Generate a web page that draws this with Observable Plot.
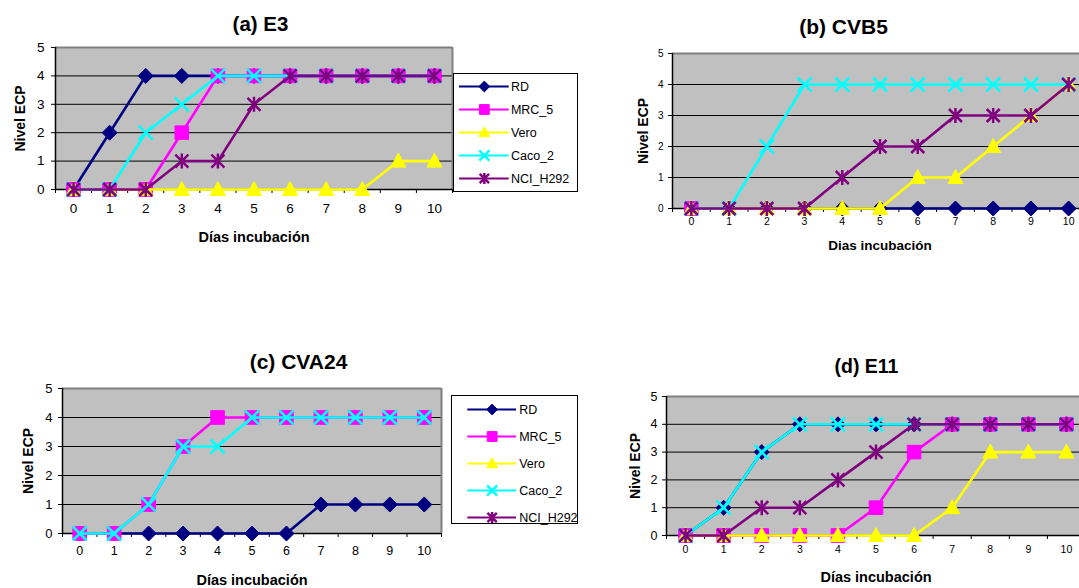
<!DOCTYPE html>
<html>
<head>
<meta charset="utf-8">
<script src="https://cdn.jsdelivr.net/npm/d3@7"></script>
<script src="https://cdn.jsdelivr.net/npm/@observablehq/plot@0.6"></script>
<style>
  html, body { margin: 0; padding: 0; background: #fff; overflow: hidden; }
  #root { position: relative; width: 1079px; height: 588px; overflow: hidden; font-family: Arial, "Liberation Sans", sans-serif; }
  .abs { position: absolute; }
  svg { overflow: visible; max-width: none !important; }
</style>
</head>
<body>
<div id="root"></div>
<script>
// ---------- data ----------
const days = [0, 1, 2, 3, 4, 5, 6, 7, 8, 9, 10];
const yTicks = [0, 1, 2, 3, 4, 5];
const seriesNames = ["RD", "MRC_5", "Vero", "Caco_2", "NCI_H292"];
const seriesColors = ["#000080", "#FF00FF", "#FFFF00", "#00FFFF", "#800080"];
const xAxisLabelAccent = "Días incubación";
const xAxisLabelPlain = "Dias incubación";
const yAxisLabel = "Nivel ECP";
const panelTitles = ["(a) E3", "(b) CVB5", "(c) CVA24", "(d) E11"];

// (a) E3
const e3RD     = [0, 2, 4, 4, 4, 4, 4, 4, 4, 4, 4];
const e3MRC5   = [0, 0, 0, 2, 4, 4, 4, 4, 4, 4, 4];
const e3Vero   = [0, 0, 0, 0, 0, 0, 0, 0, 0, 1, 1];
const e3Caco2  = [0, 0, 2, 3, 4, 4, 4, 4, 4, 4, 4];
const e3NCI    = [0, 0, 0, 1, 1, 3, 4, 4, 4, 4, 4];
// (b) CVB5
const cvb5RD    = [0, 0, 0, 0, 0, 0, 0, 0, 0, 0, 0];
const cvb5MRC5  = [0, null, null, null, null, null, null, null, null, null, null];
const cvb5Vero  = [0, 0, 0, 0, 0, 0, 1, 1, 2, 3, 4];
const cvb5Caco2 = [0, 0, 2, 4, 4, 4, 4, 4, 4, 4, 4];
const cvb5NCI   = [0, 0, 0, 0, 1, 2, 2, 3, 3, 3, 4];
// (c) CVA24
const cva24RD    = [0, 0, 0, 0, 0, 0, 0, 1, 1, 1, 1];
const cva24MRC5  = [0, 0, 1, 3, 4, 4, 4, 4, 4, 4, 4];
const cva24Vero  = [null, null, null, null, null, null, null, null, null, null, null];
const cva24Caco2 = [0, 0, 1, 3, 3, 4, 4, 4, 4, 4, 4];
const cva24NCI   = [null, null, null, null, null, null, null, null, null, null, null];
// (d) E11
const e11RD    = [0, 1, 3, 4, 4, 4, 4, 4, 4, 4, 4];
const e11MRC5  = [0, 0, 0, 0, 0, 1, 3, 4, 4, 4, 4];
const e11Vero  = [0, 0, 0, 0, 0, 0, 0, 1, 3, 3, 3];
const e11Caco2 = [0, 1, 3, 4, 4, 4, 4, 4, 4, 4, 4];
const e11NCI   = [0, 0, 1, 1, 2, 3, 4, 4, 4, 4, 4];

// ---------- symbols ----------
function makeSymbols(k) {
  return [
    { draw(c) { const h = 7.5 * k; c.moveTo(0, -h); c.lineTo(h, 0); c.lineTo(0, h); c.lineTo(-h, 0); c.closePath(); } },
    { draw(c) { const s = 6.8 * k; c.moveTo(-s, -s); c.lineTo(s, -s); c.lineTo(s, s); c.lineTo(-s, s); c.closePath(); } },
    { draw(c) { const w = 7.5 * k; c.moveTo(0, -8 * k); c.lineTo(w, 6 * k); c.lineTo(-w, 6 * k); c.closePath(); } },
    { draw(c) { const s = 7 * k; c.moveTo(-s, -s); c.lineTo(s, s); c.moveTo(s, -s); c.lineTo(-s, s); } },
    { draw(c) { const s = 6.5 * k; c.moveTo(-s, -s); c.lineTo(s, s); c.moveTo(s, -s); c.lineTo(-s, s); c.moveTo(0, -7.5 * k); c.lineTo(0, 7.5 * k); } }
  ];
}
const filledSym = [true, true, true, false, false];

const boundaries = d3.range(-0.5, 11, 1);
const root = document.getElementById("root");
const baseStyle = { fontFamily: "Arial, 'Liberation Sans', sans-serif", background: "transparent", overflow: "visible", color: "#000", maxWidth: "none" };

function panel(spec) {
  const rows = spec.values.map(arr => days.map((d, i) => ({ day: d, v: arr[i] })));
  const syms = makeSymbols(1);
  const seriesMarks = [];
  rows.forEach((data, s) => {
    seriesMarks.push(Plot.line(data, { x: "day", y: "v", stroke: seriesColors[s], strokeWidth: 2.6 }));
    seriesMarks.push(Plot.dot(data.filter(d => d.v != null), {
      x: "day", y: "v", symbol: syms[s],
      fill: filledSym[s] ? seriesColors[s] : "none",
      stroke: seriesColors[s],
      strokeWidth: filledSym[s] ? 1 : 2.5
    }));
  });
  const chart = Plot.plot({
    width: spec.width, height: spec.height,
    marginLeft: spec.mL, marginRight: spec.mR, marginTop: spec.mT, marginBottom: spec.mB,
    style: baseStyle,
    x: { domain: [-0.5, 10.5] },
    y: { domain: [0, 5] },
    marks: [
      Plot.frame({ fill: "#C0C0C0", stroke: null }),
      Plot.ruleY([1, 2, 3, 4], { stroke: "#000", strokeWidth: 1 }),
      Plot.ruleY([5], { stroke: "#808080", strokeWidth: 2 }),
      Plot.ruleX([10.5], { stroke: "#808080", strokeWidth: 2 }),
      Plot.axisY({ ticks: yTicks, tickSize: 4, tickPadding: spec.yPad, fontSize: spec.yFont, tickFormat: d => String(d), label: null }),
      Plot.axisX({ ticks: boundaries, tickSize: 4, tickFormat: () => "", label: null }),
      Plot.axisX({ ticks: days, tickSize: 0, tickPadding: spec.xPad, fontSize: spec.xFont, tickFormat: d => String(d), label: null }),
      Plot.ruleX([-0.5], { stroke: "#000", strokeWidth: 1.5 }),
      Plot.ruleY([0], { stroke: "#000", strokeWidth: 1.5 }),
      ...seriesMarks,
      Plot.text([spec.title], { text: d => d, frameAnchor: "top", lineAnchor: "middle", textAnchor: "middle", dx: spec.tDx, dy: spec.tDy, fontSize: spec.tFont, fontWeight: "bold", fill: "#000" }),
      Plot.text([yAxisLabel], { text: d => d, frameAnchor: "left", lineAnchor: "middle", textAnchor: "middle", rotate: -90, dx: spec.yLDx, fontSize: 14, fontWeight: "bold", fill: "#000" }),
      Plot.text([spec.xLabel], { text: d => d, frameAnchor: "bottom", lineAnchor: "middle", textAnchor: "middle", dx: spec.xLDx, dy: spec.xLDy, fontSize: spec.xLFont, fontWeight: "bold", fill: "#000" })
    ]
  });
  const wrap = document.createElement("div");
  wrap.className = "abs";
  wrap.style.left = spec.left + "px";
  wrap.style.top = spec.top + "px";
  wrap.style.width = spec.width + "px";
  wrap.appendChild(chart);
  root.appendChild(wrap);
}

function legend(spec) {
  const syms = makeSymbols(0.72);
  const marks = [Plot.frame({ stroke: "#000", strokeWidth: 1, fill: "#fff" })];
  seriesNames.forEach((name, s) => {
    marks.push(Plot.ruleY([name], { y: d => d, x1: spec.x1, x2: spec.x2, stroke: seriesColors[s], strokeWidth: 2.2 }));
    marks.push(Plot.dot([name], {
      y: d => d, x: (spec.x1 + spec.x2) / 2, symbol: syms[s],
      fill: filledSym[s] ? seriesColors[s] : "none",
      stroke: seriesColors[s], strokeWidth: filledSym[s] ? 1 : 2.5
    }));
    marks.push(Plot.text([name], { y: d => d, x: spec.tx, text: d => d, textAnchor: "start", fontSize: 12.5, fill: "#000" }));
  });
  const chart = Plot.plot({
    width: spec.w, height: spec.h, margin: 0,
    style: baseStyle,
    x: { domain: [0, spec.w], range: [0, spec.w], axis: null },
    y: { type: "point", domain: seriesNames, range: [spec.r0, spec.r1], padding: 0, axis: null },
    marks
  });
  const wrap = document.createElement("div");
  wrap.className = "abs";
  wrap.style.left = spec.left + "px";
  wrap.style.top = spec.top + "px";
  wrap.style.width = spec.w + "px";
  wrap.appendChild(chart);
  root.appendChild(wrap);
}

// (a)
panel({ values: [e3RD, e3MRC5, e3Vero, e3Caco2, e3NCI], title: panelTitles[0], xLabel: xAxisLabelAccent,
  left: 0, top: 0, width: 455, height: 250, mL: 55, mR: 3, mT: 47, mB: 61,
  yPad: 7, yFont: 13.5, xPad: 14, xFont: 13.5,
  tDx: 6.5, tDy: -23, tFont: 20.5, yLDx: -35, xLDx: 0, xLDy: 48, xLFont: 14.5 });
// (b)
panel({ values: [cvb5RD, cvb5MRC5, cvb5Vero, cvb5Caco2, cvb5NCI], title: panelTitles[1], xLabel: xAxisLabelPlain,
  left: 600, top: 0, width: 487, height: 260, mL: 72, mR: 0, mT: 53, mB: 52,
  yPad: 5, yFont: 10, xPad: 9, xFont: 10.5,
  tDx: -36.5, tDy: -26, tFont: 21, yLDx: -29, xLDx: 0, xLDy: 37, xLFont: 13.5 });
// (c)
panel({ values: [cva24RD, cva24MRC5, cva24Vero, cva24Caco2, cva24NCI], title: panelTitles[2], xLabel: xAxisLabelAccent,
  left: 0, top: 340, width: 445, height: 248, mL: 62, mR: 4, mT: 48, mB: 55,
  yPad: 6, yFont: 13, xPad: 13, xFont: 12.5,
  tDx: 46.5, tDy: -26, tFont: 21, yLDx: -34, xLDx: 0, xLDy: 47, xLFont: 14.5 });
// (d)
panel({ values: [e11RD, e11MRC5, e11Vero, e11Caco2, e11NCI], title: panelTitles[3], xLabel: xAxisLabelAccent,
  left: 600, top: 340, width: 487, height: 248, mL: 66, mR: 2, mT: 56, mB: 53,
  yPad: 5, yFont: 12.5, xPad: 10, xFont: 10.5,
  tDx: -9.5, tDy: -30, tFont: 19.5, yLDx: -31, xLDx: 0, xLDy: 42, xLFont: 14.5 });

legend({ left: 453, top: 73, w: 124, h: 118, r0: 11.7, r1: 105.7, x1: 6, x2: 55.7, tx: 57.4 });
legend({ left: 451, top: 395, w: 126, h: 128, r0: 14.3, r1: 122.3, x1: 16.3, x2: 65, tx: 67.7 });
</script>
</body>
</html>
